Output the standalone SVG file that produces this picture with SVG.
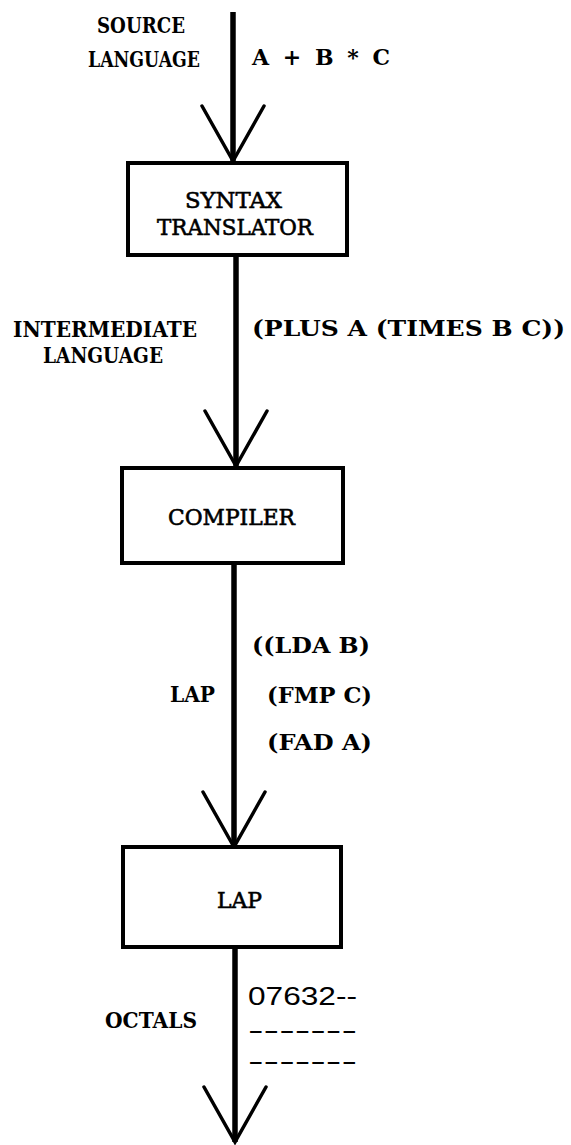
<svg xmlns="http://www.w3.org/2000/svg" width="571" height="1145" viewBox="0 0 571 1145">
<defs>
<marker id="vhead" markerUnits="userSpaceOnUse" viewBox="-60 -36 64 72" refX="0" refY="0" markerWidth="64" markerHeight="72" orient="auto" overflow="visible">
<path d="M -55,-31 L 0,0 L -55,31" fill="none" stroke="#000" stroke-width="3.5" stroke-linecap="round" stroke-linejoin="miter"/>
</marker>
</defs>
<style>
.box{fill:#fff;stroke:#000;stroke-width:4}
.shaft{fill:none;stroke:#000;stroke-width:5.5;marker-end:url(#vhead)}
.lbl{font-family:"DejaVu Serif","Liberation Serif",serif;font-weight:bold;font-size:23px;fill:#000}
.txt{font-family:"DejaVu Serif","Liberation Serif",serif;font-weight:bold;font-size:22px;fill:#000}
.name{font-family:"DejaVu Serif","Liberation Serif",serif;font-weight:normal;font-size:22px;fill:#000;stroke:#000;stroke-width:0.6}
.oct{font-family:"Liberation Sans","DejaVu Sans",sans-serif;font-size:25px;fill:#000}
</style>
<rect width="571" height="1145" fill="#fff"/>
<g id="connectors">
<line class="shaft" x1="233" y1="12" x2="233" y2="161"/>
<line class="shaft" x1="236" y1="255" x2="236" y2="466"/>
<line class="shaft" x1="234" y1="563" x2="234" y2="847"/>
<line class="shaft" x1="235" y1="947" x2="235" y2="1142"/>
<text class="lbl" x="97" y="33" textLength="88" lengthAdjust="spacingAndGlyphs">SOURCE</text>
<text class="lbl" x="88" y="67" textLength="112" lengthAdjust="spacingAndGlyphs">LANGUAGE</text>
<text class="txt" x="252" y="65" textLength="138" lengthAdjust="spacing">A + B * C</text>
<text class="lbl" x="13" y="337" textLength="184" lengthAdjust="spacingAndGlyphs">INTERMEDIATE</text>
<text class="lbl" x="43" y="363" textLength="120" lengthAdjust="spacingAndGlyphs">LANGUAGE</text>
<text class="txt" x="252" y="336" textLength="313" lengthAdjust="spacingAndGlyphs">(PLUS A (TIMES B C))</text>
<text class="txt" x="252" y="653" textLength="118" lengthAdjust="spacingAndGlyphs">((LDA B)</text>
<text class="lbl" x="170" y="702" textLength="45" lengthAdjust="spacingAndGlyphs">LAP</text>
<text class="txt" x="267" y="703" textLength="105" lengthAdjust="spacingAndGlyphs">(FMP C)</text>
<text class="txt" x="267" y="750" textLength="105" lengthAdjust="spacingAndGlyphs">(FAD A)</text>
<text class="lbl" x="105" y="1028" textLength="92" lengthAdjust="spacingAndGlyphs">OCTALS</text>
<text class="oct" x="248" y="1005" textLength="109" lengthAdjust="spacingAndGlyphs">07632--</text>
<text class="oct" x="248" y="1039" textLength="109" lengthAdjust="spacingAndGlyphs">-------</text>
<text class="oct" x="248" y="1070" textLength="109" lengthAdjust="spacingAndGlyphs">-------</text>
</g>
<g id="syntax-translator">
<rect class="box" x="128" y="163" width="219" height="92"/>
<text class="name" x="185" y="208" textLength="97" lengthAdjust="spacingAndGlyphs">SYNTAX</text>
<text class="name" x="157" y="235" textLength="156" lengthAdjust="spacingAndGlyphs">TRANSLATOR</text>
</g>
<g id="compiler">
<rect class="box" x="122" y="468" width="221" height="95"/>
<text class="name" x="168" y="525" textLength="127" lengthAdjust="spacingAndGlyphs">COMPILER</text>
</g>
<g id="lap">
<rect class="box" x="123" y="847" width="218" height="100"/>
<text class="name" x="217" y="908" textLength="45" lengthAdjust="spacingAndGlyphs">LAP</text>
</g>
</svg>
